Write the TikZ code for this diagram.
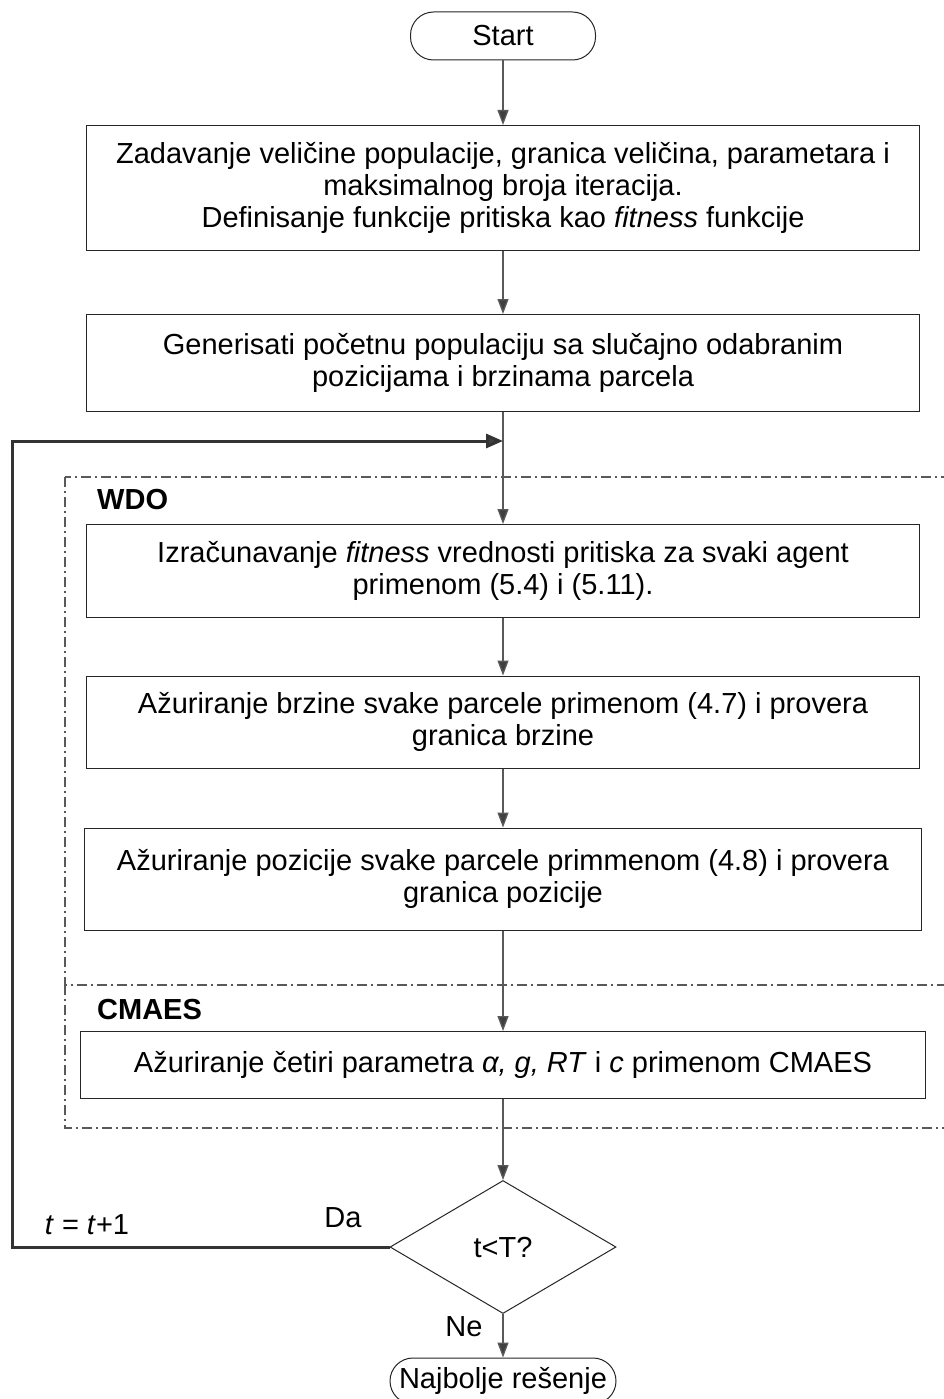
\documentclass[tikz,border=0pt]{standalone}
\usepackage{fontspec}
\setmainfont{Liberation Sans}
\usetikzlibrary{arrows.meta,shapes.geometric}
\newcommand\fsz{\fontsize{29}{32}\selectfont}
\begin{document}
\begin{tikzpicture}[x=1pt,y=-1pt,
  every node/.style={font=\fsz, text=black},
  box/.style={draw=black!85, line width=1pt, rectangle, align=center, inner sep=0pt},
  term/.style={draw=black!85, line width=1pt, rounded corners=23pt, inner sep=0pt, align=center},
  dec/.style={draw=black!85, line width=1pt, diamond, inner sep=0pt, minimum width=226pt, minimum height=133pt},
  arr/.style={draw=black!65, line width=1.3pt, -{Triangle[length=15pt,width=11pt,fill=black!75]}},
  looparr/.style={draw=black!80, line width=3pt, -{Triangle[length=17pt,width=14pt,fill=black!75]}},
  group/.style={draw=black!65, line width=1.2pt, dash pattern=on 10pt off 4pt on 2pt off 4pt},
  lab/.style={font=\fsz\bfseries, anchor=west, inner sep=0pt},
  plain/.style={inner sep=0pt}
]
\useasboundingbox (0,0) rectangle (943,1399);
\fill[white] (0,0) rectangle (943,1399);

% group frames
\draw[group] (65,477) rectangle (970,985);
\draw[group] (65,985) -- (65,1128) -- (970,1128);
\node[lab] (wdo) at (97,500) {WDO};
\node[lab] (cmaes) at (97,1010) {CMAES};

% nodes
\node[term, minimum width=185pt, minimum height=48pt] (start) at (503,36) {Start};
\node[box, minimum width=833pt, minimum height=125pt] (b1) at (503,188)
  {Zadavanje veličine populacije, granica veličina, parametara i\\ maksimalnog broja iteracija.\\ Definisanje funkcije pritiska kao \textit{fitness} funkcije};
\node[box, minimum width=833pt, minimum height=97pt] (b2) at (503,363)
  {Generisati početnu populaciju sa slučajno odabranim\\ pozicijama i brzinama parcela};
\node[box, minimum width=833pt, minimum height=93pt] (b3) at (503,571)
  {Izračunavanje \textit{fitness} vrednosti pritiska za svaki agent\\ primenom (5.4) i (5.11).};
\node[box, minimum width=833pt, minimum height=92pt] (b4) at (503,722)
  {Ažuriranje brzine svake parcele primenom (4.7) i provera\\ granica brzine};
\node[box, minimum width=837pt, minimum height=102pt] (b5) at (503,879)
  {Ažuriranje pozicije svake parcele primmenom (4.8) i provera\\ granica pozicije};
\node[box, minimum width=845pt, minimum height=67pt] (b6) at (503,1065)
  {Ažuriranje četiri parametra \textit{α, g, RT} i \textit{c} primenom CMAES};
\node[dec] (d) at (503,1247) {t<T?};
\node[term, minimum width=226pt, minimum height=46pt] (end) at (503,1381) {Najbolje rešenje};

% labels
\node[plain] (da) at (343,1218) {Da};
\node[plain] (ne) at (464,1327) {Ne};
\node[plain] (inc) at (87,1225) {\textit{t} = \textit{t}+1};

% connectors
\draw[arr] (start) -- (b1);
\draw[arr] (b1) -- (b2);
\draw[arr] (b2) -- (b3);
\draw[arr] (b3) -- (b4);
\draw[arr] (b4) -- (b5);
\draw[arr] (b5) -- (b6);
\draw[arr] (b6) -- (d);
\draw[arr] (d) -- (end);

\coordinate (c1) at (12,1247);
\coordinate (c2) at (12,441);
\coordinate (j) at (503,441);
\draw[looparr] (d.west) -- (c1) -- (c2) -- (j);
\end{tikzpicture}
\end{document}
